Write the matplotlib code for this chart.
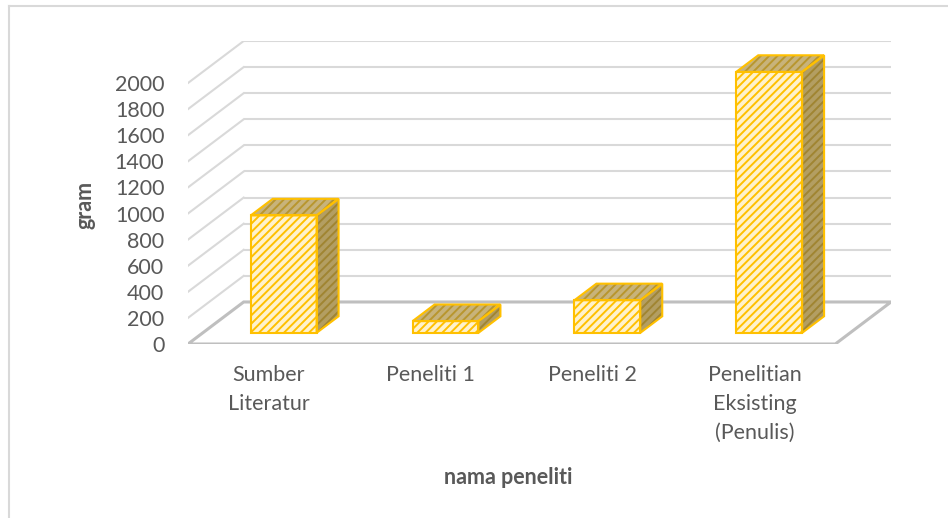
import matplotlib
matplotlib.use('Agg')
import matplotlib.pyplot as plt
from matplotlib.patches import Polygon
from matplotlib.lines import Line2D

# data
categories = ['Sumber\nLiteratur', 'Peneliti 1', 'Peneliti 2', 'Penelitian\nEksisting\n(Penulis)']
values = [900, 90, 250, 2000]
yticks = list(range(0, 2001, 200))

plt.rcParams['font.family'] = ['Lato', 'DejaVu Sans']
plt.rcParams['hatch.linewidth'] = 1.4
txt = '#595959'

# oblique 3d look: depth shift (in category units, in grams) for the full floor depth
DX = 0.344
DY = 322
f0, f1 = 0.265, 0.66   # front / back depth of the bars
w = 0.407

def P(x, y, d):
	return (x + d * DX, y + d * DY)

fig = plt.figure(figsize=(9.48, 5.18), dpi=100)
ax = fig.add_axes([188 / 948, 1 - 344 / 518, 703 / 948, 303 / 518])
ax.set_xlim(-0.5, 3.5 + DX)
ax.set_ylim(0, 2000 + DY)

# back wall grid + left wall diagonals
for v in yticks[1:]:
	xs, ys = zip(P(-0.5, v, 1), P(3.5, v, 1))
	ax.plot(xs, ys, color='#D9D9D9', lw=1.5, zorder=1, solid_capstyle='butt')
	xs, ys = zip(P(-0.5, v, 0), P(-0.5, v, 1))
	ax.plot(xs, ys, color='#D9D9D9', lw=1.5, zorder=1)

# floor
floor = [P(-0.5, 0, 0), P(3.5, 0, 0), P(3.5, 0, 1), P(-0.5, 0, 1)]
ax.add_patch(Polygon(floor, closed=True, fill=False, edgecolor='#BFBFBF', lw=2.2, zorder=1,
	joinstyle='miter'))

# bars
for i, v in enumerate(values):
	x0, x1 = i - w / 2, i + w / 2
	side = [P(x1, 0, f0), P(x1, 0, f1), P(x1, v, f1), P(x1, v, f0)]
	top = [P(x0, v, f0), P(x1, v, f0), P(x1, v, f1), P(x0, v, f1)]
	ax.add_patch(Polygon(side, closed=True, facecolor='#B39E62', edgecolor='#A08532', hatch='////', lw=0, zorder=3))
	ax.add_patch(Polygon(side, closed=True, fill=False, edgecolor='#FFC000', lw=1.5, zorder=4))
	ax.add_patch(Polygon(top, closed=True, facecolor='#C8B37A', edgecolor='#B8962E', hatch='////', lw=0, zorder=3))
	ax.add_patch(Polygon(top, closed=True, fill=False, edgecolor='#FFC000', lw=1.5, zorder=4))
	ax.bar(i + f0 * DX, v, bottom=f0 * DY, width=w, color='#FFF2CC', edgecolor='#FFC000',
		hatch='////', lw=0, zorder=3)
	ax.bar(i + f0 * DX, v, bottom=f0 * DY, width=w, fill=False, edgecolor='#FFC000', lw=1.5, zorder=4)

for s in ax.spines.values():
	s.set_visible(False)
ax.set_yticks(yticks)
ax.set_yticklabels([str(t) for t in yticks])
ax.set_xticks(range(len(categories)))
ax.set_xticklabels(categories, linespacing=1.55)
ax.tick_params(axis='y', length=0, pad=17, labelsize=15.5, labelcolor=txt)
ax.tick_params(axis='x', length=0, pad=15, labelsize=15.5, labelcolor=txt)
ax.patch.set_alpha(0)

fig.text(508 / 948, 1 - 477 / 518, 'nama peneliti', ha='center', va='center',
	fontsize=15.5, fontweight='bold', color=txt)
fig.text(85 / 948, 1 - 205 / 518, 'gram', ha='center', va='center', rotation=90,
	fontsize=15.5, fontweight='bold', color=txt)

# chart area border (only top and left visible in the reference)
fig.add_artist(Line2D([8.5 / 948, 1], [1 - 5.5 / 518] * 2, color='#D9D9D9', lw=1.5))
fig.add_artist(Line2D([8.5 / 948] * 2, [0, 1 - 5.5 / 518], color='#D9D9D9', lw=1.5))

plt.savefig('out.png', dpi=100)
